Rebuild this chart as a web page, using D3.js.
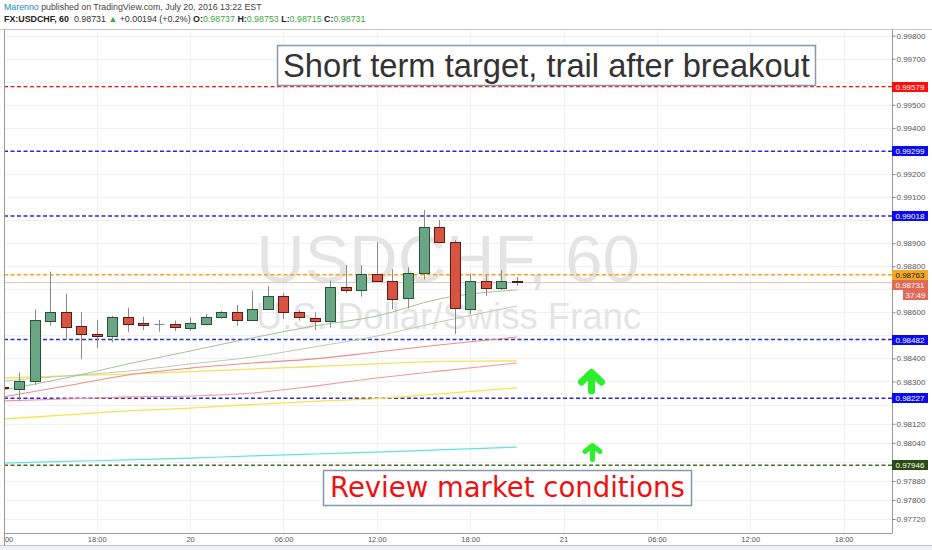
<!DOCTYPE html>
<html><head><meta charset="utf-8">
<script src="https://cdn.jsdelivr.net/npm/d3@7"></script>
<style>body{margin:0;background:#fff;} svg{display:block;}</style>
</head><body>
<svg id="c" width="932" height="550"></svg>
<script>
// ---------------- DATA ----------------
const startTime = new Date(2016, 6, 19, 12, 0); // first hourly bar
const open  = [0.98275,0.98270,0.98302,0.98565,0.98603,0.98539,0.98506,0.98497,0.98581,0.98554,0.98550,0.98548,0.98532,0.98551,0.98580,0.98600,0.98567,0.98616,0.98669,0.98600,0.98577,0.98562,0.98711,0.98697,0.98765,0.98737,0.98661,0.98769,0.98969,0.98904,0.98616,0.98736,0.98704,0.98737];
const high  = [0.98277,0.98338,0.98613,0.98776,0.98680,0.98601,0.98567,0.98585,0.98620,0.98581,0.98567,0.98564,0.98578,0.98593,0.98606,0.98632,0.98694,0.98714,0.98684,0.98610,0.98600,0.98737,0.98805,0.98805,0.98904,0.98787,0.98795,0.99044,0.99001,0.98914,0.98769,0.98762,0.98784,0.98753];
const low   = [0.98268,0.98216,0.98285,0.98542,0.98480,0.98396,0.98444,0.98470,0.98515,0.98523,0.98516,0.98519,0.98520,0.98545,0.98572,0.98541,0.98562,0.98610,0.98571,0.98564,0.98523,0.98533,0.98683,0.98668,0.98734,0.98613,0.98617,0.98743,0.98900,0.98506,0.98593,0.98671,0.98697,0.98715];
const close = [0.98271,0.98303,0.98567,0.98603,0.98536,0.98503,0.98497,0.98581,0.98551,0.98545,0.98550,0.98533,0.98552,0.98580,0.98600,0.98567,0.98616,0.98671,0.98598,0.98578,0.98562,0.98711,0.98697,0.98765,0.98736,0.98661,0.98769,0.98969,0.98902,0.98616,0.98736,0.98704,0.98736,0.98731];

// moving-average style lines, sampled at these bar indices
const maIndex = [0,4,8,12,16,20,24,28,33];
const maGray1   = [0.98263,0.98315,0.98376,0.98432,0.98489,0.98541,0.98584,0.98658,0.98697];
const maGray2   = [0.98302,0.98324,0.98345,0.98376,0.98406,0.98450,0.98497,0.98558,0.98627];
const maPink1   = [0.98233,0.98280,0.98328,0.98358,0.98380,0.98398,0.98428,0.98458,0.98493];
const maYellow1 = [0.98315,0.98324,0.98332,0.98343,0.98354,0.98365,0.98376,0.98387,0.98389];
const maPink2   = [0.98216,0.98224,0.98233,0.98237,0.98250,0.98280,0.98315,0.98345,0.98380];
const maYellow2 = [0.98140,0.98157,0.98174,0.98186,0.98201,0.98214,0.98226,0.98246,0.98272];
const maCyan    = [0.97955,0.97962,0.97968,0.97976,0.97985,0.97993,0.98001,0.98010,0.98022];

// horizontal levels
const levelValues = [0.99579, 0.99299, 0.99018, 0.98763, 0.98482, 0.98227, 0.97946];
const lastPrice = 0.98731;
const countdown = "37:49";

// axis ticks
const priceTicks = [0.998,0.997,0.996,0.995,0.994,0.993,0.992,0.991,0.990,0.989,0.988,0.987,0.986,0.985,0.984,0.983,0.982,0.9812,0.9804,0.9796,0.9788,0.9780,0.9772];
const timeTicks = [new Date(2016,6,19,12),new Date(2016,6,19,18),new Date(2016,6,20,0),new Date(2016,6,20,6),new Date(2016,6,20,12),new Date(2016,6,20,18),new Date(2016,6,21,0),new Date(2016,6,21,6),new Date(2016,6,21,12),new Date(2016,6,21,18)];

const headerLine1 = ["Marenno", " published on TradingView.com, July 20, 2016 13:22 EST"];
const noteTop = "Short term target, trail after breakout";
const noteBottom = "Review market conditions";

// ---------------- STYLES ----------------
const levelColors = ["#ff1010","#2a2ad8","#2a2ad8","#ffa010","#2a2ad8","#2a2ad8","#4f6a20"];
const levelLabelBg = ["#ff0d0d","#0a0aee","#0a0aee","#f5a623","#0a0aee","#0a0aee","#2b4a12"];
const levelLabelFg = ["#fff","#fff","#fff","#222","#fff","#fff","#fff"];
const levelWidth = [1.4,1.5,1.5,1.4,1.5,1.5,1.4];

const W = 932, H = 550;
const P = {l:4, r:892, t:30, b:533};
const FONT = "'Liberation Sans', Arial, sans-serif";

const svg = d3.select('#c');
const bars = open.map((o,i)=>({t:d3.timeHour.offset(startTime,i), o, h:high[i], l:low[i], c:close[i]}));

const x = d3.scaleTime()
  .domain([new Date(2016,6,19,12), new Date(2016,6,21,18)])
  .range([3.4, 843.6]);
const y = d3.scaleLinear()
  .domain([0.9772, 0.98227, 0.998])
  .range([519, 398.3, 35.7]);

// frame background
svg.append('rect').attr('x',0).attr('y',545.5).attr('width',W).attr('height',5).attr('fill','#eef1f5');

const defs = svg.append('defs');
defs.append('clipPath').attr('id','pc').append('rect')
  .attr('x',P.l+0.5).attr('y',P.t).attr('width',P.r-P.l-0.5).attr('height',P.b-P.t);
defs.append('clipPath').attr('id','xc').append('rect')
  .attr('x',P.l+1).attr('y',P.b).attr('width',P.r-P.l).attr('height',15);

const plot = svg.append('g').attr('clip-path','url(#pc)');

// grid
plot.append('g').selectAll('line').data(priceTicks).join('line')
  .attr('x1',P.l).attr('x2',P.r)
  .attr('y1',d=>Math.round(y(d))+0.5).attr('y2',d=>Math.round(y(d))+0.5)
  .attr('stroke','#f1f1f1');
plot.append('g').selectAll('line').data(timeTicks).join('line')
  .attr('x1',d=>Math.round(x(d))+0.5).attr('x2',d=>Math.round(x(d))+0.5)
  .attr('y1',P.t).attr('y2',P.b)
  .attr('stroke','#f1f1f1');

// watermark
plot.append('text').attr('x',448).attr('y',281.5).attr('text-anchor','middle')
  .attr('font-family',FONT).attr('font-size',67).attr('fill','#e4e4e4').text('USDCHF, 60');
plot.append('text').attr('x',448.5).attr('y',329).attr('text-anchor','middle')
  .attr('font-family',FONT).attr('font-size',36.5).attr('fill','#e4e4e4').text('U.S. Dollar/Swiss Franc');

// level lines
plot.append('g').selectAll('line').data(levelValues).join('line')
  .attr('x1',P.l).attr('x2',P.r)
  .attr('y1',d=>y(d)).attr('y2',d=>y(d))
  .attr('stroke',(d,i)=>levelColors[i]).attr('stroke-width',(d,i)=>levelWidth[i])
  .attr('stroke-dasharray','4,2.5');

// last price line
plot.append('line').attr('x1',P.l).attr('x2',P.r)
  .attr('y1',Math.round(y(lastPrice))+0.5).attr('y2',Math.round(y(lastPrice))+0.5)
  .attr('stroke','#e8c2bc').attr('stroke-width',1);

// MA lines
const maSeries = [
  {v:maCyan,    c:'#5fe3e6', w:1.2},
  {v:maYellow2, c:'#f3e64a', w:1.3},
  {v:maPink2,   c:'#f29a9a', w:1.1},
  {v:maYellow1, c:'#f4e35a', w:1.3},
  {v:maPink1,   c:'#f08a8a', w:1.1},
  {v:maGray2,   c:'#bccab4', w:1},
  {v:maGray1,   c:'#a9bca2', w:1}
];
const line = d3.line().x(d=>x(d.t)).y(d=>y(d.v)).curve(d3.curveMonotoneX);
maSeries.forEach(s=>{
  const pts = maIndex.map((k,i)=>({t:d3.timeHour.offset(startTime,k), v:s.v[i]}));
  plot.append('path').attr('d',line(pts)).attr('fill','none')
    .attr('stroke',s.c).attr('stroke-width',s.w);
});

// candles
const gC = plot.append('g');
const bw = 10;
bars.forEach(b=>{
  const cx = Math.round(x(b.t)) + 0.5;
  gC.append('line').attr('x1',cx).attr('x2',cx).attr('y1',y(b.h)).attr('y2',y(b.l))
    .attr('stroke','#8a8a8c').attr('stroke-width',1);
  if (b.o === b.c) {
    gC.append('line').attr('x1',cx-bw/2).attr('x2',cx+bw/2)
      .attr('y1',Math.round(y(b.o))+0.5).attr('y2',Math.round(y(b.o))+0.5)
      .attr('stroke','#8a8a8c');
    return;
  }
  const up = b.c > b.o;
  const top = y(Math.max(b.o,b.c)), bot = y(Math.min(b.o,b.c));
  const yt = Math.round(top)+0.5;
  const hh = Math.max(1, Math.round(bot - top));
  gC.append('rect').attr('x',cx-bw/2).attr('y',yt).attr('width',bw).attr('height',hh)
    .attr('fill', up ? '#6ba583' : '#d75442')
    .attr('stroke', up ? '#225437' : '#5b1a13').attr('stroke-width',1);
});

// note boxes
function fitText(t, target){
  const w = t.node().getComputedTextLength();
  const fs = parseFloat(t.attr('font-size'));
  t.attr('font-size', fs*target/w);
}
plot.append('rect').attr('x',277.5).attr('y',45.5).attr('width',538).attr('height',40)
  .attr('fill','#fff').attr('stroke','#8797ae').attr('stroke-width',1.5);
const tTop = plot.append('text').attr('x',283).attr('y',76.5).attr('font-family',FONT)
  .attr('font-size',32).attr('fill','#333').text(noteTop);
fitText(tTop, 527);
plot.append('rect').attr('x',323.5).attr('y',470.5).attr('width',368).attr('height',35)
  .attr('fill','#fff').attr('stroke','#8797ae').attr('stroke-width',1.5);
const tBot = plot.append('text').attr('x',330).attr('y',497).attr('font-family',"'DejaVu Sans', Verdana, sans-serif")
  .attr('font-size',27).attr('fill','#ee1111').text(noteBottom);
fitText(tBot, 355);

// arrows
const arrows = plot.append('g').attr('fill','none').attr('stroke','#2bef2b')
  .attr('stroke-linecap','round').attr('stroke-linejoin','round');
arrows.append('path').attr('d','M581.5,382 L591.5,372.5 L601.5,382 M591.5,374 L591.5,391').attr('stroke-width',7);
arrows.append('path').attr('d','M585,451.5 L592.5,445.5 L600,451.5 M592.5,447 L592.5,459.5').attr('stroke-width',5);

// frame lines
svg.append('line').attr('x1',0).attr('x2',W).attr('y1',29.5).attr('y2',29.5).attr('stroke','#c4c4c4');
svg.append('line').attr('x1',4.5).attr('x2',4.5).attr('y1',29.5).attr('y2',545.5).attr('stroke','#9a9a9a');
svg.append('line').attr('x1',4).attr('x2',P.r).attr('y1',533.5).attr('y2',533.5).attr('stroke','#9a9a9a');
svg.append('line').attr('x1',892.5).attr('x2',892.5).attr('y1',29.5).attr('y2',533.5).attr('stroke','#9a9a9a');
svg.append('line').attr('x1',0).attr('x2',W).attr('y1',545.5).attr('y2',545.5).attr('stroke','#c0c4c8');

// price-label placement (last price label is pushed below the adjacent orange one)
const lastLabelY = y(lastPrice) + 2.5;
const countdownY = lastLabelY + 10.5;

// right axis: tick labels hidden under price labels are not drawn
const labelYs = levelValues.map(v=>y(v)).concat([lastLabelY]);
const visibleTicks = priceTicks.filter(v=>{
  const yy = y(v);
  return labelYs.every(ly=>Math.abs(ly-yy) > 8.5) && Math.abs(countdownY-yy) > 8;
});
const ya = svg.append('g').attr('transform','translate(892.5,0)')
  .call(d3.axisRight(y).tickValues(visibleTicks).tickFormat(d3.format('.5f')).tickSize(3).tickPadding(1));
ya.select('.domain').remove();
ya.selectAll('line').attr('stroke','#888');
ya.selectAll('text').attr('font-family',FONT).attr('font-size',8).attr('fill','#555');

// bottom axis
const fmt = d => d.getHours()===0 ? d3.timeFormat('%-d')(d) : d3.timeFormat('%H:%M')(d);
const xa = svg.append('g').attr('clip-path','url(#xc)').append('g').attr('transform','translate(0,533)')
  .call(d3.axisBottom(x).tickValues(timeTicks).tickFormat(fmt).tickSize(0).tickPadding(4));
xa.select('.domain').remove();
xa.selectAll('text').attr('font-family',FONT).attr('font-size',7.5).attr('fill','#555');

// price labels on axis
const lab = svg.append('g');
levelValues.forEach((v,i)=>{
  const yy = Math.round(y(v));
  lab.append('rect').attr('x',892).attr('y',yy-5).attr('width',36).attr('height',10).attr('fill',levelLabelBg[i]);
  lab.append('text').attr('x',895.5).attr('y',yy+3).attr('font-family',FONT).attr('font-size',8)
    .attr('fill',levelLabelFg[i]).text(d3.format('.5f')(v));
});
{
  const yy = Math.round(lastLabelY);
  lab.append('rect').attr('x',892).attr('y',yy-5).attr('width',36).attr('height',10).attr('fill','#df6a56');
  lab.append('text').attr('x',895.5).attr('y',yy+3).attr('font-family',FONT).attr('font-size',8)
    .attr('fill','#fff').text(d3.format('.5f')(lastPrice));
  const cy = Math.round(countdownY);
  lab.append('rect').attr('x',903).attr('y',cy-5).attr('width',25).attr('height',10).attr('fill','#df6a56');
  lab.append('text').attr('x',915.5).attr('y',cy+3).attr('text-anchor','middle').attr('font-family',FONT).attr('font-size',8)
    .attr('fill','#fff').text(countdown);
}

// header
const h1 = svg.append('text').attr('x',4).attr('y',10).attr('font-family',FONT).attr('font-size',9);
h1.append('tspan').attr('fill','#2286c9').text(headerLine1[0]);
h1.append('tspan').attr('fill','#444').text(headerLine1[1]);
fitText(h1, 258);

const last = bars[bars.length-1];
const f5 = d3.format('.5f');
const h2 = svg.append('text').attr('x',4).attr('y',21.5).attr('font-family',FONT).attr('font-size',9).attr('fill','#333');
h2.append('tspan').attr('font-weight','bold').attr('fill','#222').text('FX:USDCHF, 60');
h2.append('tspan').text('\u00a0 ' + f5(last.c) + ' ');
h2.append('tspan').attr('fill','#3daa3d').text('\u25B2');
h2.append('tspan').text(' +0.00194 (+0.2%) ');
[['O:',last.o],['H:',last.h],['L:',last.l],['C:',last.c]].forEach((p,i)=>{
  h2.append('tspan').attr('font-weight','bold').attr('fill','#222').text((i? ' ':'') + p[0]);
  h2.append('tspan').attr('fill','#3daa3d').text(f5(p[1]));
});
fitText(h2, 362);
</script>
</body></html>
